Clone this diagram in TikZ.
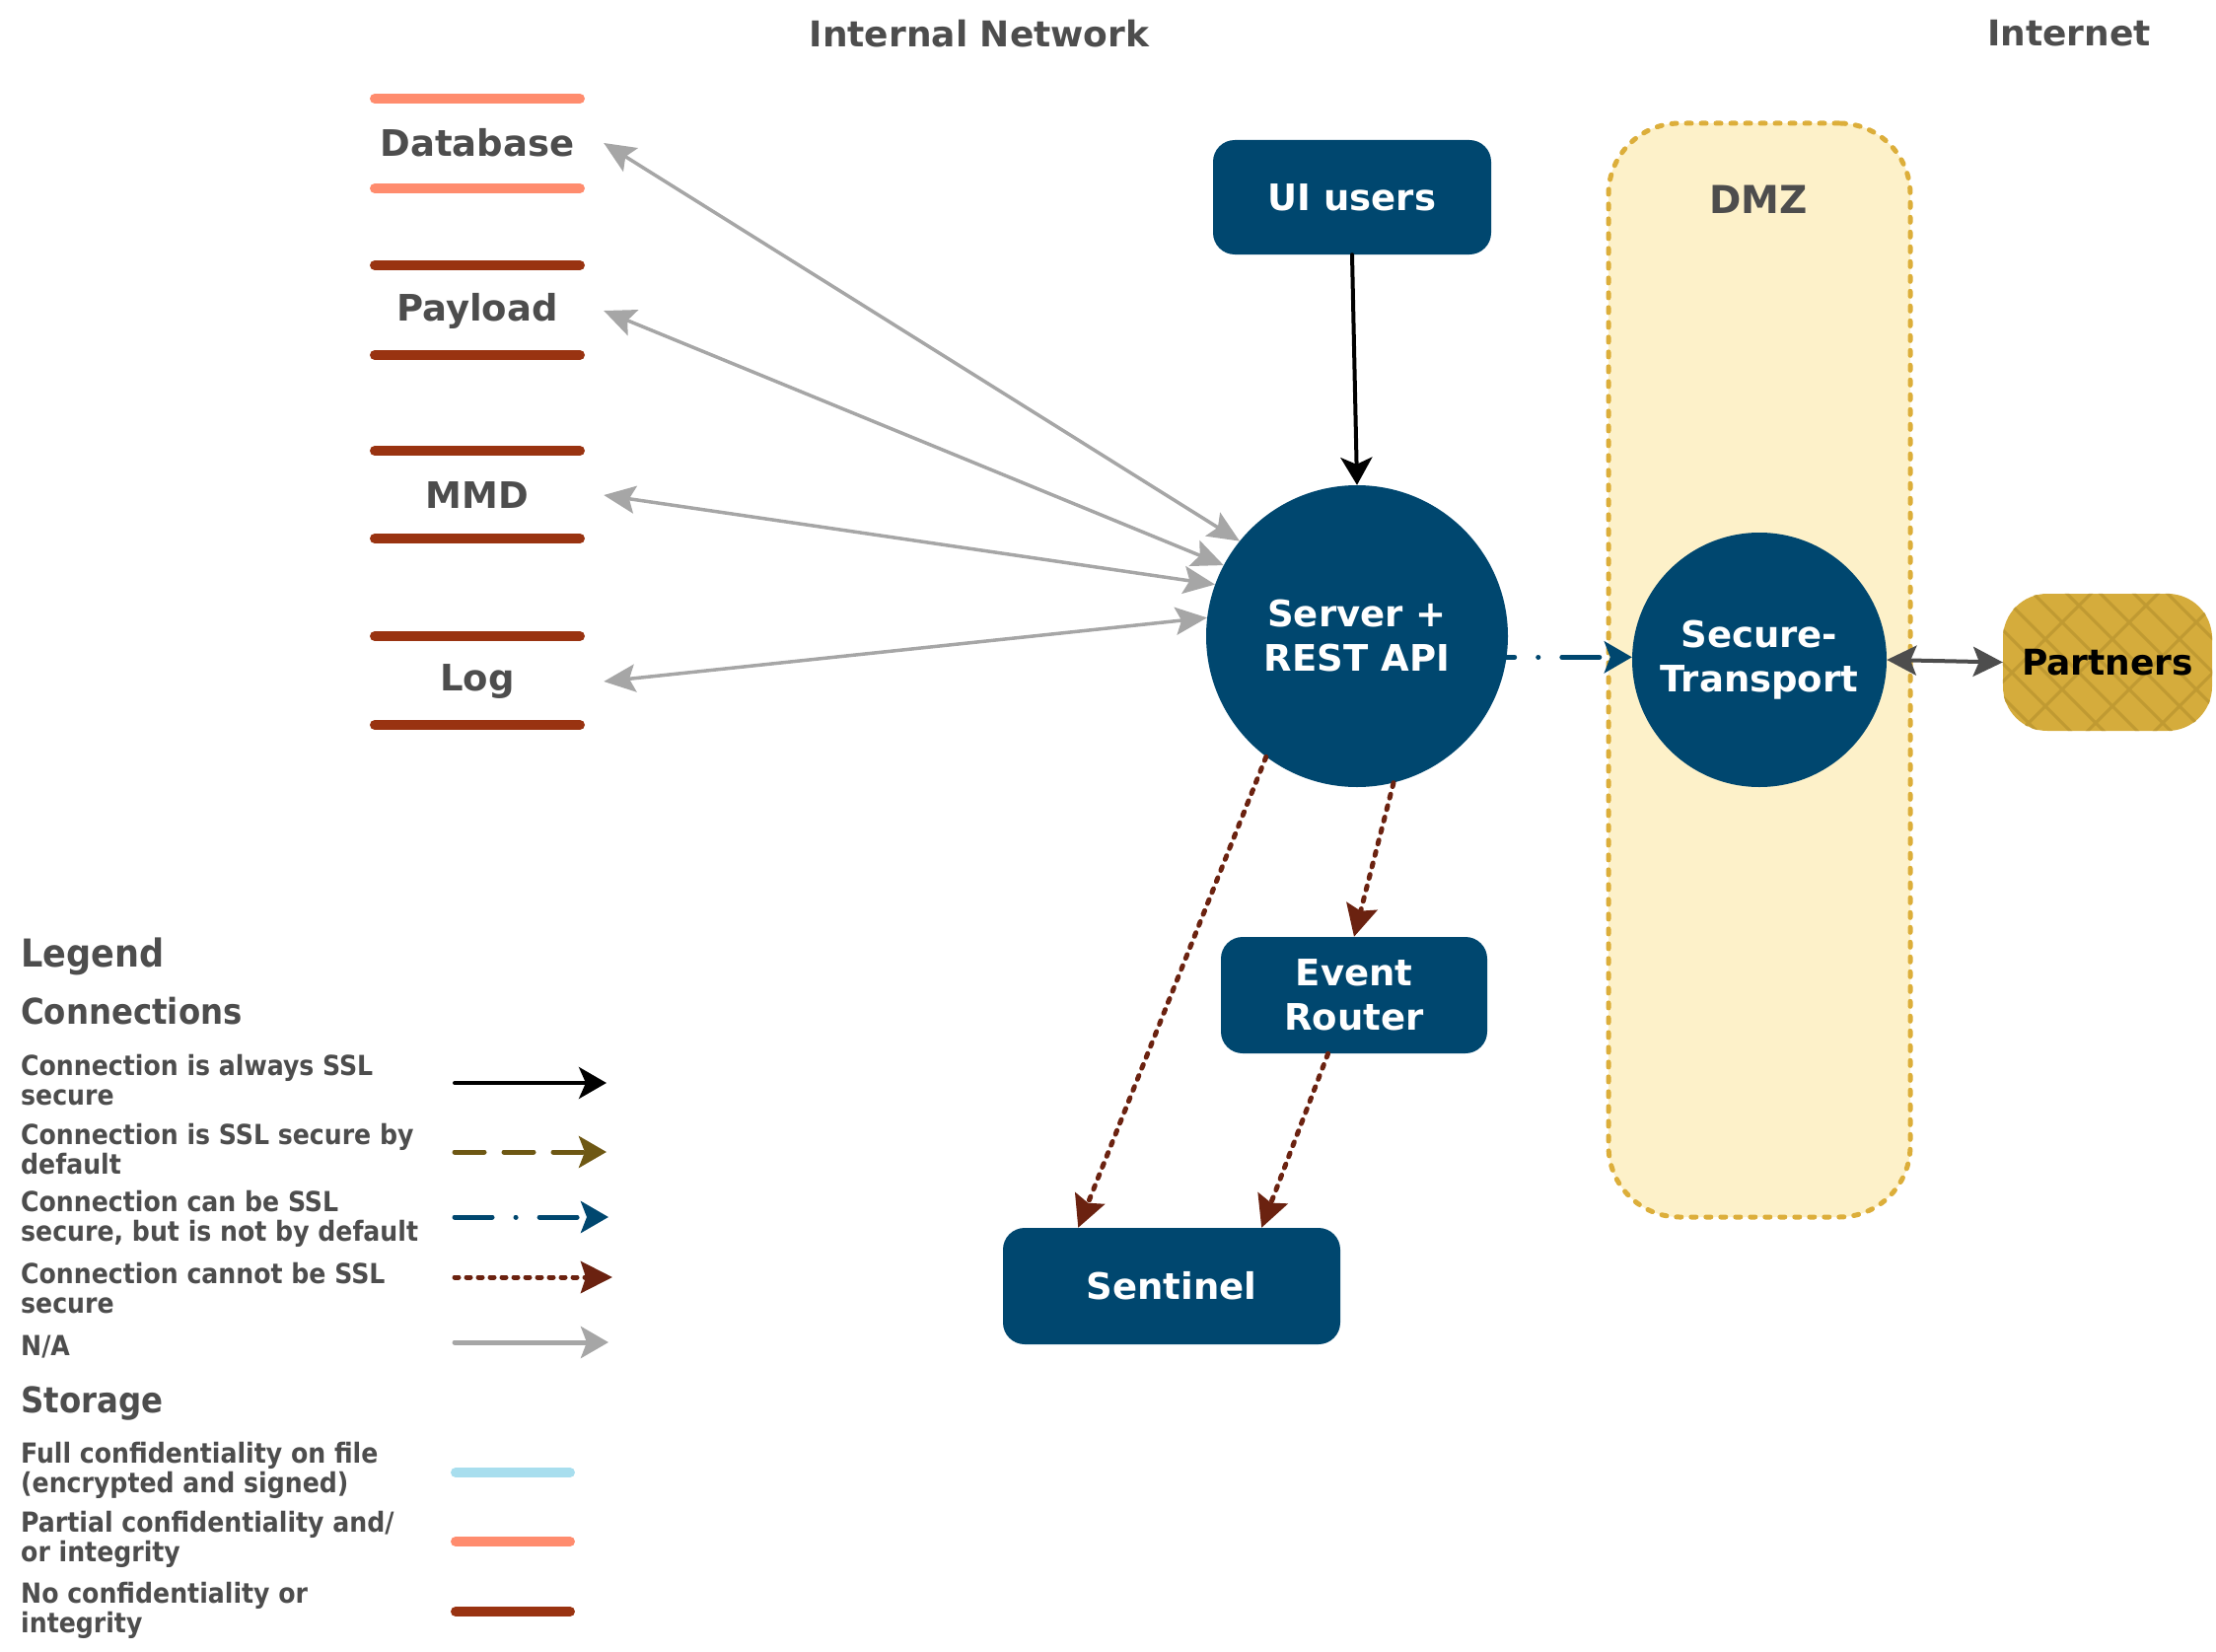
\documentclass[tikz,border=0pt]{standalone}
\usepackage{fontspec}
\setmainfont{DejaVu Sans}
\newfontfamily\condfont{DejaVu Sans Condensed}
\usetikzlibrary{arrows.meta}
\definecolor{navy}{HTML}{00476F}
\definecolor{txtgray}{HTML}{4D4D4D}
\definecolor{salmon}{HTML}{FF8C6E}
\definecolor{rust}{HTML}{993311}
\definecolor{skyblue}{HTML}{A8DEEE}
\definecolor{dmzfill}{HTML}{FDF1C9}
\definecolor{dmzline}{HTML}{DCAE3A}
\definecolor{gold}{HTML}{D5AC3C}
\definecolor{golddark}{HTML}{C09A32}
\definecolor{olive}{HTML}{6E5814}
\definecolor{darkrust}{HTML}{6B2210}
\definecolor{lightgray}{HTML}{A6A6A6}

\begin{document}
\begin{tikzpicture}[x=1pt, y=-1pt, line cap=round]
		\tikzstyle{box}=[fill=navy,text=white,rounded corners=22pt,font=\bfseries\fontsize{37}{45}\selectfont,align=center,inner sep=0pt]
		\tikzstyle{ball}=[circle,fill=navy,text=white,font=\bfseries\fontsize{37}{45}\selectfont,align=center,inner sep=0pt]
		\tikzstyle{zone}=[text=txtgray,font=\bfseries\fontsize{36}{44}\selectfont]
		\tikzstyle{store}=[text=txtgray,font=\bfseries\fontsize{37}{45}\selectfont,minimum width=256pt,inner sep=0pt]
		\tikzstyle{lghead}=[anchor=west,inner sep=0pt,text=txtgray,font=\condfont\bfseries\fontsize{36}{40}\selectfont]
		\tikzstyle{lgitem}=[anchor=west,inner sep=0pt,align=left,text=txtgray,font=\condfont\bfseries\fontsize{28}{30}\selectfont]
		\tikzstyle{bar}=[line width=10pt]
		\tikzstyle{always}=[black,line width=4pt,-{Stealth[length=28pt,width=32pt,inset=7pt]}]
		\tikzstyle{bydefault}=[olive,line width=5pt,dash pattern=on 30pt off 20pt,-{Stealth[length=28pt,width=32pt,inset=6pt]}]
		\tikzstyle{canbe}=[navy,line width=5pt,dash pattern=on 38pt off 24pt on 0.1pt off 24pt,-{Stealth[length=28pt,width=32pt,inset=6pt]}]
		\tikzstyle{cannot}=[darkrust,line width=5pt,dash pattern=on 4pt off 8pt,-{Stealth[length=32pt,width=32pt,inset=5pt]}]
		\tikzstyle{na}=[lightgray,line width=3.5pt,{Stealth[length=32pt,width=28pt,inset=6pt]}-{Stealth[length=32pt,width=28pt,inset=6pt]}]
		\tikzstyle{hatch}=[golddark,line width=3pt,line cap=butt]
	
		\useasboundingbox (0,0) rectangle (2247,1675);
	
		\draw (993,34) node[zone] (internal) {Internal Network};
		\draw (2098,34) node[zone] (internet) {Internet};
	
		\draw (1784,679.5) node[draw=dmzline,fill=dmzfill,line width=5pt,dash pattern=on 5pt off 10pt,rounded corners=72pt,minimum width=306pt,minimum height=1109pt] (dmz) {};
		\draw (1783,202) node[zone,font=\bfseries\fontsize{39}{45}\selectfont] (dmzlabel) {DMZ};
	
		\draw (484,145) node[store] (db) {Database};
		\draw (484,315) node[store] (pl) {Payload};
		\draw (484,502) node[store] (mmd) {MMD};
		\draw (484,691) node[store] (log) {Log};
		\draw[bar,salmon] (380,100) -- (588,100);
		\draw[bar,salmon] (380,191) -- (588,191);
		\draw[bar,rust] (380,269) -- (588,269);
		\draw[bar,rust] (380,360) -- (588,360);
		\draw[bar,rust] (380,457) -- (588,457);
		\draw[bar,rust] (380,546) -- (588,546);
		\draw[bar,rust] (380,645) -- (588,645);
		\draw[bar,rust] (380,735) -- (588,735);
	
		\draw (1371,200) node[box,minimum width=282pt,minimum height=116pt] (ui) {UI users};
		\draw (1376,645) node[ball,minimum size=306pt] (server) {Server +\\REST API};
		\draw (1784,669) node[ball,minimum size=258pt] (st) {Secure-\\Transport};
		\draw (1373,1009) node[box,minimum width=270pt,minimum height=118pt] (event) {Event\\Router};
		\draw (1188,1304) node[box,minimum width=342pt,minimum height=118pt] (sentinel) {Sentinel};
		\draw (2137,671.5) node[fill=gold,rounded corners=45pt,minimum width=212pt,minimum height=139pt,inner sep=0pt] (partners) {};
		\begin{scope}
			\clip[rounded corners=45pt] (partners.south west) rectangle (partners.north east);
			\foreach \i in {0,...,11} {
				\draw[hatch] ({1870+34*\i},580) -- ++(190,190);
				\foreach \j in {0,...,5}
					\draw[hatch] ({1870+34*\i+34*\j+17*mod(\i,2)},{580+34*\j+17*mod(\i,2)}) -- ++(17,-17);
			}
		\end{scope}
		\draw (partners) node[font=\bfseries\fontsize{36}{44}\selectfont] (partnerstext) {Partners};
	
		\draw[na] (db.east) -- (server.141);
		\draw[na] (pl.east) -- (server.152);
		\draw[na] (mmd.east) -- (server.160);
		\draw[na] (log.east) -- (server.173);
		\draw[always] (ui.south) -- (server.north);
		\draw[canbe,dash phase=30pt] (server.-8) -- (server.-8 -| st.west);
		\draw[txtgray,line width=4pt,{Stealth[length=30pt,width=30pt,inset=6pt]}-{Stealth[length=30pt,width=30pt,inset=6pt]}] (st.east) -- (partners.west);
		\draw[cannot] (server.233) -- (sentinel.148);
		\draw[cannot] (server.-76) -- (event.north);
		\draw[cannot] (event.246) -- (sentinel.33);
	
		\draw (21,970) node[lghead,font=\condfont\bfseries\fontsize{39}{44}\selectfont] (legend) {Legend};
		\draw (21,1025) node[lghead] (connections) {Connections};
		\draw (21,1095) node[lgitem] (lgalways) {Connection is always SSL\\secure};
		\draw (21,1165) node[lgitem] (lgdefault) {Connection is SSL secure by\\default};
		\draw (21,1236) node[lgitem] (lgcanbe) {Connection can be SSL\\secure, but is not by default};
		\draw (21,1306) node[lgitem] (lgcannot) {Connection cannot be SSL\\secure};
		\draw (21,1366) node[lgitem] (lgna) {N/A};
		\draw[always] (461,1098) -- (615,1098);
		\draw[bydefault] (461,1168) -- (615,1168);
		\draw[canbe] (461,1234) -- (617,1234);
		\draw[cannot] (461,1295) -- (621,1295);
		\draw[lightgray,line width=5pt,-{Stealth[length=28pt,width=32pt,inset=6pt]}] (461,1361) -- (617,1361);
	
		\draw (21,1423) node[lghead] (storage) {Storage};
		\draw (21,1491) node[lgitem] (lgfull) {Full confidentiality on file\\(encrypted and signed)};
		\draw (21,1561) node[lgitem] (lgpartial) {Partial confidentiality and/\\or integrity};
		\draw (21,1633) node[lgitem] (lgnone) {No confidentiality or\\integrity};
		\draw[bar,skyblue] (462,1493) -- (578,1493);
		\draw[bar,salmon] (462,1563) -- (578,1563);
		\draw[bar,rust] (462,1634) -- (578,1634);
	\end{tikzpicture}
\end{document}
